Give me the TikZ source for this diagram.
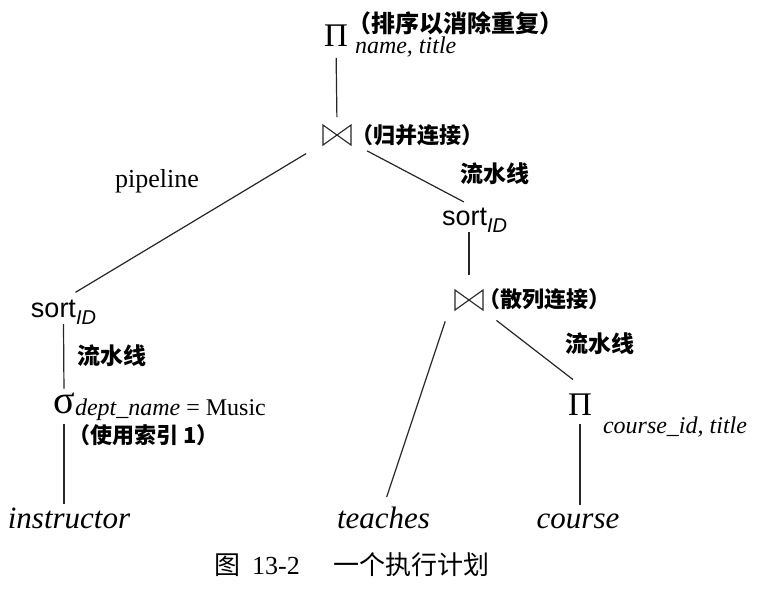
\documentclass[tikz,border=0pt]{standalone}
\usepackage{fontspec}
\setmainfont{Liberation Serif}
\setsansfont{Liberation Sans}
\newfontfamily\cjk{Noto Sans CJK SC}
\usetikzlibrary{positioning}

\begin{document}
\begin{tikzpicture}[x=0.5pt, y=-0.5pt,
    every node/.style={inner sep=0pt, outer sep=0pt},
    opsym/.style={font=\fontsize{16.5}{16}\selectfont},
    selsym/.style={font=\fontsize{20}{20}\selectfont},
    joinsym/.style={minimum width=14pt, minimum height=10pt},
    bowtie/.style={draw, line width=0.55pt, black!85, line join=miter},
    sortop/.style={font=\fontsize{13.5}{14}\selectfont\sffamily, anchor=base},
    relname/.style={font=\fontsize{15.5}{16}\selectfont\itshape, anchor=base},
    attrlab/.style={font=\fontsize{12}{13}\selectfont\itshape, anchor=west},
    cjklab/.style={font=\cjk\bfseries\fontsize{11}{12}\selectfont, anchor=west},
    pipelab/.style={font=\cjk\bfseries\fontsize{11.5}{12}\selectfont},
    edge/.style={draw, line width=0.6pt, black!85},
]
\newcommand{\idsub}{\raisebox{-3.5pt}{\fontsize{10}{10}\selectfont\itshape ID}}

\useasboundingbox (0,0) rectangle (763,596);

% ===== TOP: projection and merge join =====
\node[opsym] (proj) at (336,36) {Π};
\node[cjklab, font=\cjk\bfseries\fontsize{12}{12}\selectfont] (proj-note) at (347,23) {（排序以消除重复）};
\node[attrlab] (proj-attr) at (355,47) {name, title};

\node[joinsym] (mj) at (337,135) {};
\draw[bowtie] (mj.north west) -- (mj.south west) -- (mj.north east) -- (mj.south east) -- cycle;
\node[cjklab] (mj-note) at (351,135) {（归并连接）};

% ===== LEFT BRANCH =====
\node[sortop] (sortL) at (63.5,317) {sort\idsub};
\node[selsym] (sel) at (64,403) {σ};
\node[attrlab, font=\fontsize{12}{13}\selectfont] (sel-attr) at (75,410) {\textit{dept\_name} = Music};
\node[cjklab] (sel-note) at (68,435) {（使用索引 1）};
\node[relname] (instr) at (69,528) {instructor};

% ===== RIGHT BRANCH =====
\node[sortop] (sortR) at (474.5,225) {sort\idsub};
\node[joinsym] (hj) at (469,300) {};
\draw[bowtie] (hj.north west) -- (hj.south west) -- (hj.north east) -- (hj.south east) -- cycle;
\node[cjklab] (hj-note) at (478,299) {（散列连接）};
\node[opsym] (projC) at (580,405) {Π};
\node[attrlab] (projC-attr) at (603,427) {course\_id, title};
\node[relname] (teach) at (383.5,528) {teaches};
\node[relname] (course) at (578,528) {course};

% ===== CONNECTORS =====
\draw[edge, shorten <=5.5pt, shorten >=4pt] (proj.south) -- (mj.north);
\draw[edge, shorten <=18pt, shorten >=7pt] (mj.center) -- (sortL.north);
\draw[edge, shorten <=17pt, shorten >=6pt] (mj.center) -- (sortR.north);
\draw[edge, shorten >=2pt] (sortL.south) -- (sel.north);
\draw[edge, shorten <=5.5pt, shorten >=1.5pt] (sel.south) -- (sel.south |- instr.north);
\draw[edge, shorten >=7.5pt] (hj |- sortR.south) -- (hj.north);
\draw[edge, shorten <=6pt, shorten >=5pt] ([xshift=-3pt]hj.south west) -- (teach.north);
\draw[edge, shorten <=8.5pt, shorten >=12pt] (hj.south east) -- (projC.north east);
\draw[edge, shorten <=4pt, shorten >=4pt] (projC.south) -- (projC.south |- course.north);

% pipeline labels
\node[font=\fontsize{13}{14}\selectfont] (pipe-en) at (157,181) {pipeline};
\node[pipelab] (pipe-mj) at (495,174) {流水线};
\node[pipelab] (pipe-sort) at (112,356) {流水线};
\node[pipelab] (pipe-hj) at (600,344) {流水线};

% caption
\node[font=\fontsize{13}{14}\selectfont] (caption) at (352,565)
    {{\cjk 图}\hspace{6pt}13-2\hspace{17pt}{\cjk 一个执行计划}};
\end{tikzpicture}
\end{document}
